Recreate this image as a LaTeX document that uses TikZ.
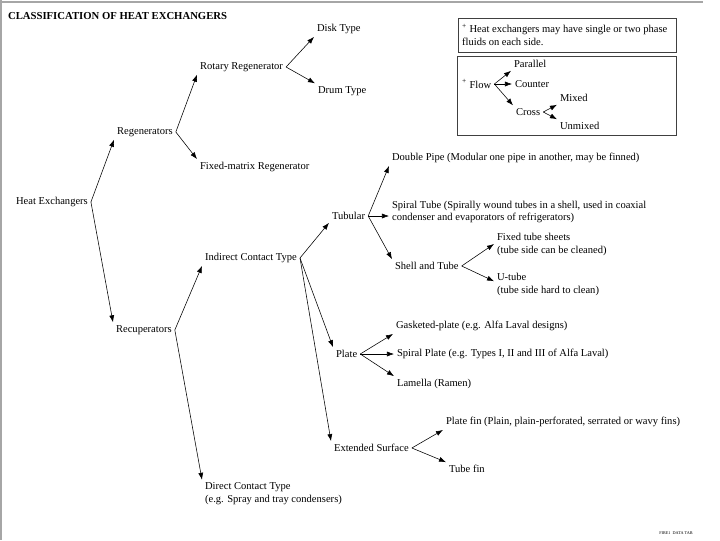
\documentclass[tikz,border=0pt]{standalone}
\usepackage{fontspec}
\setmainfont{Liberation Serif}
\usetikzlibrary{arrows.meta, calc}

\begin{document}
\begin{tikzpicture}[
  x=0.025cm, y=-0.025cm,
  font=\fontsize{7.5}{9.2}\selectfont,
  item/.style={anchor=west, inner sep=2pt, align=left},
  link/.style={thin, -{Latex[length=5pt,width=3.6pt]}},
  box/.style={draw, black!75, line width=0.5pt},
]
\useasboundingbox (0,0) rectangle (720,540);
\draw[black!35, line width=1pt] (0,2) -- (703,2);
\draw[black!35, line width=1pt] (1,0) -- (1,540);
\node[item, font=\fontsize{7.6}{9}\selectfont\bfseries] (title) at (5,16) {CLASSIFICATION OF HEAT EXCHANGERS};
% main tree
\node[item] (hx) at (13,202) {Heat Exchangers};
\node[item] (regen) at (114,132) {Regenerators};
\node[item] (recup) at (113,330) {Recuperators};
\node[item] (rot) at (197,67) {Rotary Regenerator};
\node[item] (fixm) at (197,167) {Fixed-matrix Regenerator};
\node[item] (disk) at (314,29) {Disk Type};
\node[item] (drum) at (315,91) {Drum Type};
\node[item] (indir) at (202,258) {Indirect Contact Type};
\node[item] (direct) at (202,494) {Direct Contact Type\\(e.g. Spray and tray condensers)};
\node[item] (tub) at (329,216) {Tubular};
\node[item] (plate) at (333,354) {Plate};
\node[item] (ext) at (331,448) {Extended Surface};
\node[item] (dpipe) at (389,158) {Double Pipe (Modular one pipe in another, may be finned)};
\node[item] (stube) at (389,212) {Spiral Tube (Spirally wound tubes in a shell, used in coaxial\\condenser and evaporators of refrigerators)};
\node[item] (shell) at (392,266) {Shell and Tube};
\node[item] (ftube) at (494,244) {Fixed tube sheets\\(tube side can be cleaned)};
\node[item] (utube) at (494,284) {U-tube\\(tube side hard to clean)};
\node[item] (gask) at (393,326) {Gasketed-plate (e.g. Alfa Laval designs)};
\node[item] (splate) at (394,354) {Spiral Plate (e.g. Types I, II and III of Alfa Laval)};
\node[item] (lam) at (394,384) {Lamella (Ramen)};
\node[item] (pfin) at (443,422) {Plate fin (Plain, plain-perforated, serrated or wavy fins)};
\node[item] (tfin) at (446,469) {Tube fin};
% notes
\draw[box] (458,18) rectangle (676,52);
\node[item] (note) at (459,35) {\textsuperscript{+} Heat exchangers may have single or two phase\\fluids on each side.};
\draw[box] (457,56) rectangle (676,135);
\node[item] (flow) at (459,84) {\textsuperscript{+} Flow};
\node[item] (par) at (511,64) {Parallel};
\node[item] (count) at (512,84) {Counter};
\node[item] (cross) at (513,112) {Cross};
\node[item] (mix) at (557,98) {Mixed};
\node[item] (unmix) at (557,126) {Unmixed};
\node[anchor=east, inner sep=0pt, font=\fontsize{3}{3}\selectfont] (tag) at (693,533) {FIRE1\ \ DATA TAB};
% connectors
\foreach \a/\b in {hx/regen.south west, hx/recup.north west, regen/rot.south west,
  regen/fixm.north west, rot/disk.south west, rot/drum.north west,
  recup/indir.south west, recup/direct.north west, indir/tub.south west,
  indir/plate.north west, indir/ext.north west, tub/dpipe.south west,
  tub/shell.north west, shell/ftube.west, plate/gask.south west,
  plate/lam.north west, ext/pfin.south west, ext/tfin.north west,
  flow/par.south west, flow/cross.north west, cross/mix.south west,
  cross/unmix.north west}
  \draw[link] (\a.east) -- (\b);
\draw[link] (shell.east) -- ([yshift=2pt]utube.west);
\foreach \a/\b in {tub/stube, plate/splate, flow/count}
  \draw[link] (\a.east) -- (\a.east -| \b.west);
\end{tikzpicture}
\end{document}
